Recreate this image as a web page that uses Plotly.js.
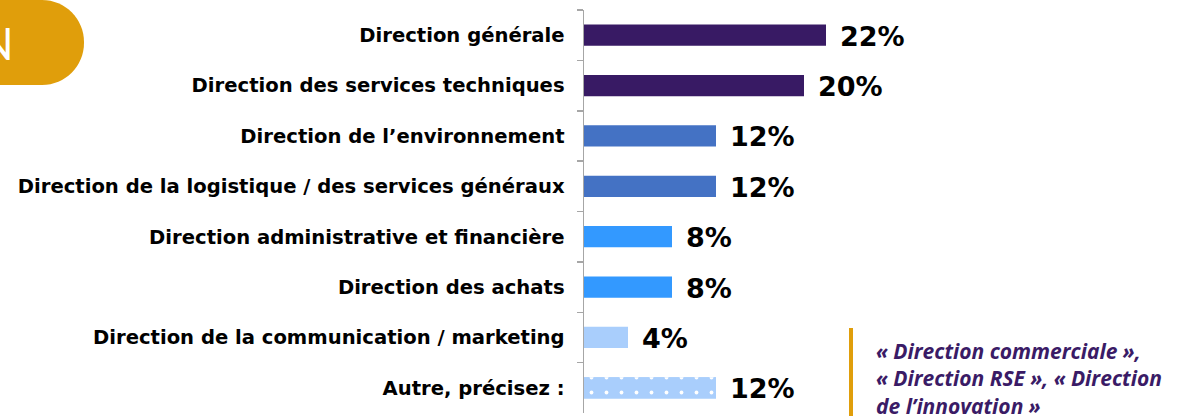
<!DOCTYPE html>
<html><head><meta charset="utf-8">
<script src="https://cdn.plot.ly/plotly-3.0.1.min.js"></script>
<style>html,body{margin:0;padding:0;background:#fff;overflow:hidden}</style>
</head><body><div id="chart" style="width:1187px;height:416px"></div>
<script>
const categories = [
  "Direction générale",
  "Direction des services techniques",
  "Direction de l’environnement",
  "Direction de la logistique / des services généraux",
  "Direction administrative et financière",
  "Direction des achats",
  "Direction de la communication / marketing",
  "Autre, précisez :"
];
const values = [22, 20, 12, 12, 8, 8, 4, 12];
const valueLabels = ["22%", "20%", "12%", "12%", "8%", "8%", "4%", "12%"];
const barColors = ["#381A64", "#381A64", "#4472C4", "#4472C4", "#3399FF", "#3399FF", "#A9CEFC", "#A9CEFC"];
const dotted = [false, false, false, false, false, false, false, true];
const noteText = "« Direction commerciale »,<br>« Direction RSE », « Direction<br>de l’innovation »";

const W = 1187, H = 416;
const M = {l: 584, r: 0, t: 10, b: 3};
const PW = W - M.l - M.r, PH = H - M.t - M.b;
const px = x => (x - M.l) / PW;
const py = y => (H - M.b - y) / PH;

// rounded badge path (top-left)
function badge() {
  const x0 = -60, x1 = 84, y0 = 0, y1 = 85, r = 42;
  const k = 0.5523 * r;
  const pts = [];
  pts.push(`M${px(x0)},${py(y0)}`);
  pts.push(`L${px(x1 - r)},${py(y0)}`);
  pts.push(`C${px(x1 - r + k)},${py(y0)} ${px(x1)},${py(y0 + r - k)} ${px(x1)},${py(y0 + r)}`);
  pts.push(`L${px(x1)},${py(y1 - r)}`);
  pts.push(`C${px(x1)},${py(y1 - r + k)} ${px(x1 - r + k)},${py(y1)} ${px(x1 - r)},${py(y1)}`);
  pts.push(`L${px(x0)},${py(y1)} Z`);
  return pts.join(" ");
}

const barWidth = 0.42;
const traceMain = {
  type: "bar",
  orientation: "h",
  y: categories,
  x: values,
  width: barWidth,
  marker: {color: barColors, line: {width: 0}},
  hoverinfo: "none"
};
const dotIdx = categories.map((c, i) => i).filter(i => dotted[i]);
const traceDots = {
  type: "bar",
  orientation: "h",
  y: dotIdx.map(i => categories[i]),
  x: dotIdx.map(i => values[i]),
  width: barWidth,
  marker: {
    color: "#A9CEFC",
    line: {width: 0},
    pattern: {shape: ".", fgcolor: "#FFFFFF", bgcolor: "#A9CEFC", fgopacity: 1, size: 15, solidity: 0.05, fillmode: "replace"}
  },
  hoverinfo: "none"
};

const annotations = categories.map((c, i) => ({
  x: values[i], y: c, xref: "x", yref: "y",
  text: valueLabels[i], showarrow: false, xanchor: "left", yanchor: "middle",
  xshift: 12, yshift: -1,
  font: {family: "DejaVu Sans", size: 27, color: "#000", weight: "bold"}
}));
annotations.push({
  x: px(16), y: py(43), xref: "paper", yref: "paper", xanchor: "right", yanchor: "middle",
  text: "N", showarrow: false, font: {family: "Lato", size: 44, color: "#FFFFFF"}
});
annotations.push({
  x: px(874), y: py(335), xref: "paper", yref: "paper", xanchor: "left", yanchor: "top",
  align: "left", text: "<b><i>" + noteText + "</i></b>", showarrow: false,
  font: {family: "Open Sans", size: 21, color: "#3A1B66", weight: "bold", style: "italic"}
});

const layout = {
  width: W, height: H,
  margin: M,
  barmode: "overlay",
  paper_bgcolor: "#fff", plot_bgcolor: "#fff",
  showlegend: false,
  xaxis: {range: [0, PW / 11], visible: false, fixedrange: true},
  yaxis: {
    type: "category", autorange: "reversed",
    categoryorder: "array", categoryarray: categories,
    showline: true, linecolor: "#A6A6A6", linewidth: 1.5,
    ticks: "outside", ticklen: 6, tickcolor: "#A6A6A6", tickwidth: 1.5,
    tickson: "boundaries", showgrid: false, zeroline: false,
    ticklabelstandoff: 14,
    tickfont: {family: "DejaVu Sans", size: 19.6, color: "#000", weight: "bold"}
  },
  shapes: [
    {type: "path", xref: "paper", yref: "paper", path: badge(), fillcolor: "#E09E0B", line: {width: 0}, layer: "above"},
    {type: "line", xref: "paper", yref: "paper", x0: px(851), x1: px(851), y0: py(328), y1: py(420), line: {color: "#E09E0B", width: 4}}
  ],
  annotations: annotations
};

Plotly.newPlot("chart", [traceMain, traceDots], layout, {displayModeBar: false, staticPlot: true});
</script></body></html>
